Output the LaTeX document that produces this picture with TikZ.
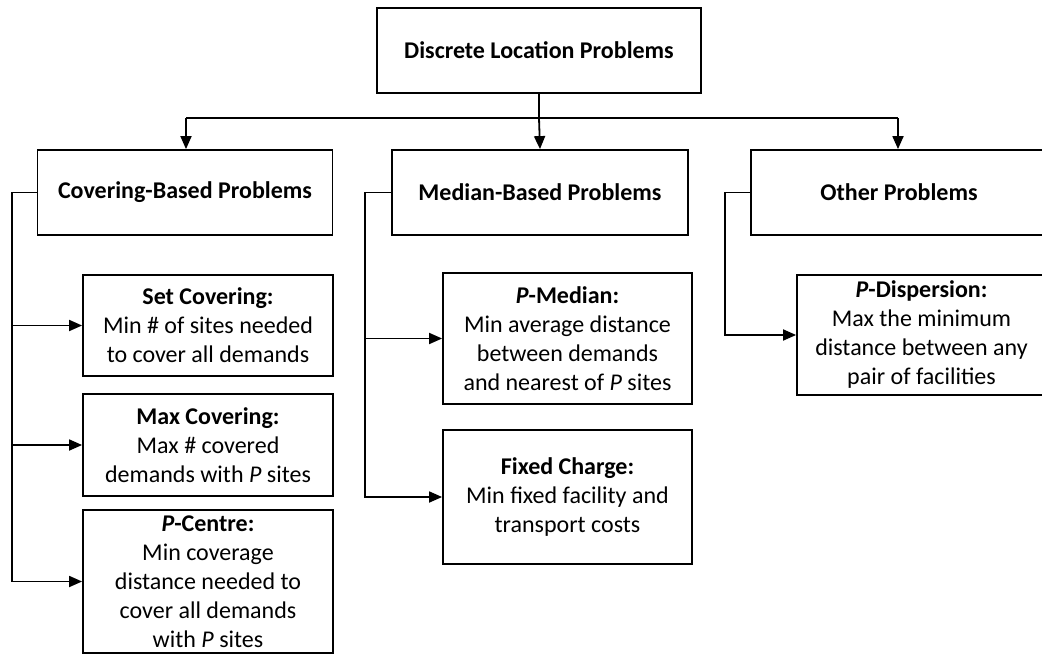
\documentclass[tikz,border=0pt]{standalone}
\usepackage{fontspec}
\setmainfont{Carlito}
\usetikzlibrary{arrows.meta}
\begin{document}
\begin{tikzpicture}[x=1pt,y=-1pt,
  box/.style={draw, line width=1.8pt, rectangle, inner sep=0pt, align=center,
    font=\fontsize{24}{29}\selectfont},
  conn/.style={line width=1.8pt},
  arr/.style={conn, -{Triangle[length=13pt,width=11pt]}}]
\useasboundingbox (0,0) rectangle (1042,656);
\clip (0,0) rectangle (1042,656);
\fill[white] (0,0) rectangle (1042,656);

% top
\node[box, minimum width=324pt, minimum height=85pt] (top) at (539,50.5) {\textbf{Discrete Location Problems}};

% level 2
\node[box, minimum width=295pt, minimum height=85pt] (cov) at (185,192.5) {\textbf{Covering-Based Problems}};
\node[box, minimum width=296pt, minimum height=85pt] (med) at (540,192.5) {\textbf{Median-Based Problems}};
\node[box, minimum width=296pt, minimum height=85pt] (oth) at (899,192.5) {\textbf{Other Problems}};

% covering children
\node[box, minimum width=250pt, minimum height=101pt] (sc) at (208,325.5)
  {\textbf{Set Covering:}\\Min \# of sites needed\\to cover all demands};
\node[box, minimum width=250pt, minimum height=102pt] (mc) at (208,445)
  {\textbf{Max Covering:}\\Max \# covered\\demands with \textit{P} sites};
\node[box, minimum width=250pt, minimum height=143pt] (pc) at (208,581.5)
  {\textbf{\textit{P}-Centre:}\\Min coverage\\distance needed to\\cover all demands\\with \textit{P} sites};

% median children
\node[box, minimum width=249pt, minimum height=131pt] (pm) at (567.5,338.5)
  {\textbf{\textit{P}-Median:}\\Min average distance\\between demands\\and nearest of \textit{P} sites};
\node[box, minimum width=249pt, minimum height=134pt] (fc) at (567.5,497)
  {\textbf{Fixed Charge:}\\Min fixed facility and\\transport costs};

% other children
\node[box, minimum width=249pt, minimum height=120pt] (pd) at (921.5,335)
  {\textbf{\textit{P}-Dispersion:}\\Max the minimum\\distance between any\\pair of facilities};

% top connectors
\coordinate (busL) at (186,118);
\coordinate (busR) at (898,118);
\draw[conn] (top.south) -- (top.south |- busL);
\draw[conn] (busL) -- (busR);
\draw[arr] (busL) -- (busL |- cov.north);
\draw[arr] (top.south |- busL) -- (med.north);
\draw[arr] (busR) -- (busR |- oth.north);

% spines
\draw[arr] (cov.west) -- ++(-25,0) |- (sc.west);
\draw[arr] (cov.west) -- ++(-25,0) |- (mc.west);
\draw[arr] (cov.west) -- ++(-25,0) |- (pc.west);

\draw[arr] (med.west) -- ++(-26,0) |- (pm.west);
\draw[arr] (med.west) -- ++(-26,0) |- (fc.west);

\draw[arr] (oth.west) -- ++(-25,0) |- (pd.west);
\end{tikzpicture}
\end{document}
